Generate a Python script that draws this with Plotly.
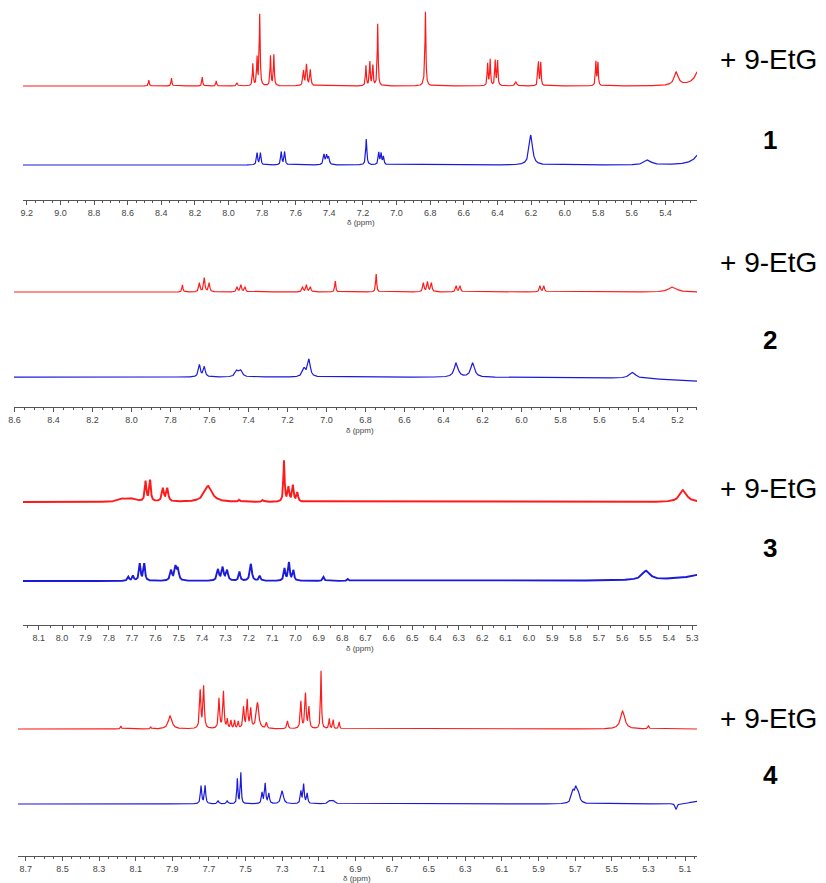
import numpy as np
import plotly.graph_objects as go

W, H = 826, 883

# ---------------- data: peak tables (ppm, intensity, half-width ppm) ----------------
# Panel 1
p1_red_pos = [8.474, 8.339, 8.156, 8.073, 7.95, 7.855, 7.83, 7.814, 7.75, 7.73, 7.554, 7.536, 7.513,
              7.182, 7.159, 7.141, 7.112, 6.835, 6.828, 6.458, 6.443, 6.413, 6.399, 6.29, 6.156, 6.142,
              5.814, 5.802, 5.336, 5.18]
p1_red_h = [6, 8, 9, 5, 3, 22, 28, 72, 30, 31, 15, 21, 16, 20, 24, 20, 62, 4, 72, 22, 26, 25, 25, 4,
            24, 23, 24, 23, 13, 30]
p1_red_w = [0.003, 0.003, 0.003, 0.003, 0.004, 0.003, 0.003, 0.003, 0.003, 0.003, 0.004, 0.004, 0.004,
            0.003, 0.003, 0.003, 0.003, 0.008, 0.003, 0.003, 0.003, 0.003, 0.003, 0.006, 0.003, 0.003,
            0.003, 0.003, 0.015, 0.03]
p1_blue_pos = [7.83, 7.81, 7.686, 7.666, 7.432, 7.416, 7.404, 7.18, 7.106, 7.092, 7.078, 6.201, 5.505, 5.17]
p1_blue_h = [12, 12, 13, 13, 10, 9, 7, 26, 12, 11, 8, 30, 5, 24]
p1_blue_w = [0.004, 0.004, 0.004, 0.004, 0.005, 0.005, 0.005, 0.004, 0.004, 0.004, 0.004, 0.012, 0.022, 0.035]

# Panel 2
p2_red_pos = [7.739, 7.652, 7.627, 7.602, 7.459, 7.439, 7.418, 7.123, 7.103, 7.083, 6.955, 6.745,
              6.503, 6.482, 6.462, 6.335, 6.315, 5.905, 5.885, 5.225]
p2_red_h = [7, 9, 14, 9, 5, 7, 5, 5, 7, 5, 11, 18, 9, 10, 9, 6, 6, 6, 6, 5]
p2_red_w = [0.003, 0.004, 0.004, 0.004, 0.004, 0.004, 0.004, 0.004, 0.004, 0.004, 0.003, 0.003,
            0.004, 0.004, 0.004, 0.004, 0.004, 0.004, 0.004, 0.025]
p2_blue_pos = [7.652, 7.627, 7.46, 7.44, 7.115, 7.09, 6.335, 6.25, 5.43, 4.9]
p2_blue_h = [12, 10, 6, 6, 8, 17, 14, 14, 6, -6]
p2_blue_w = [0.006, 0.006, 0.01, 0.01, 0.01, 0.008, 0.012, 0.012, 0.02, 0.3]

# Panel 3
p3_red_pos = [7.74, 7.70, 7.642, 7.623, 7.568, 7.549, 7.374, 7.24, 7.14, 7.049, 7.03, 7.011, 6.992, 5.339]
p3_red_h = [3, 3, 20, 21, 13, 13, 16, 2, 2, 41, 14, 16, 9, 12]
p3_red_w = [0.02, 0.02, 0.004, 0.004, 0.005, 0.005, 0.02, 0.004, 0.004, 0.003, 0.004, 0.004, 0.004, 0.018]
p3_blue_pos = [7.716, 7.696, 7.667, 7.648, 7.533, 7.514, 7.504, 7.332, 7.312, 7.293, 7.24, 7.191,
               7.153, 7.047, 7.028, 7.009, 6.88, 6.775, 5.498, 5.15]
p3_blue_h = [4, 5, 17, 17, 10, 13, 11, 11, 13, 10, 9, 17, 5, 12, 18, 10, 4, 2, 9, 16]
p3_blue_w = [0.004, 0.004, 0.004, 0.004, 0.005, 0.005, 0.005, 0.005, 0.005, 0.005, 0.004, 0.005,
             0.004, 0.004, 0.004, 0.004, 0.004, 0.004, 0.02, 0.1]

# Panel 4
p4_red_pos = [8.181, 8.018, 7.912, 7.748, 7.729, 7.645, 7.621, 7.60, 7.58, 7.56, 7.54, 7.511, 7.491,
              7.472, 7.435, 7.386, 7.271, 7.198, 7.173, 7.154, 7.088, 7.043, 7.022, 6.989, 5.441, 5.30]
p4_red_h = [3, 2, 13, 38, 42, 30, 37, 9, 8, 8, 7, 21, 28, 19, 26, 6, 8, 27, 35, 21, 58, 10, 9, 7, 18, 3]
p4_red_w = [0.003, 0.003, 0.012, 0.004, 0.004, 0.004, 0.004, 0.003, 0.003, 0.003, 0.003, 0.004, 0.004,
            0.004, 0.008, 0.004, 0.004, 0.004, 0.004, 0.004, 0.003, 0.003, 0.003, 0.003, 0.014, 0.004]
p4_blue_pos = [7.743, 7.721, 7.65, 7.60, 7.545, 7.526, 7.41, 7.393, 7.373, 7.30, 7.198, 7.183, 7.164,
               7.04, 7.02, 5.712, 5.697, 5.685, 5.149, 4.95]
p4_blue_h = [18, 18, 3, 3, 25, 31, 11, 20, 10, 13, 12, 19, 10, 3, 3, 12, 10, 11, -6, 10]
p4_blue_w = [0.004, 0.004, 0.005, 0.005, 0.003, 0.003, 0.004, 0.004, 0.004, 0.008, 0.004, 0.004, 0.004,
             0.01, 0.01, 0.01, 0.006, 0.01, 0.006, 0.05]

label_plus = "+ 9-EtG"
panel_labels = ["1", "2", "3", "4"]
axis_title = "δ (ppm)"

# ---------------- layout (pixel geometry of each panel) ----------------
panels = [
    dict(red=(p1_red_pos, p1_red_h, p1_red_w), blue=(p1_blue_pos, p1_blue_h, p1_blue_w),
         xl=17, xr=697, d0=9.2, x0=21, ppx=169.5, red_base=86, blue_base=165, axis_y=200,
         dtick=0.2, tick0=0.0, plus_y=60, num_y=140, lw=1.2, title_x=358, title_y=222),
    dict(red=(p2_red_pos, p2_red_h, p2_red_w), blue=(p2_blue_pos, p2_blue_h, p2_blue_w),
         xl=8, xr=697, d0=8.4, x0=48, ppx=196.6, red_base=292, blue_base=377, axis_y=407,
         dtick=0.2, tick0=0.0, plus_y=262, num_y=340, lw=1.2, title_x=357, title_y=430),
    dict(red=(p3_red_pos, p3_red_h, p3_red_w), blue=(p3_blue_pos, p3_blue_h, p3_blue_w),
         xl=17, xr=697, d0=8.1, x0=33, ppx=235.4, red_base=502, blue_base=581, axis_y=625,
         dtick=0.1, tick0=0.0, plus_y=488, num_y=548, lw=1.9, title_x=357, title_y=648),
    dict(red=(p4_red_pos, p4_red_h, p4_red_w), blue=(p4_blue_pos, p4_blue_h, p4_blue_w),
         xl=12, xr=697, d0=8.7, x0=20, ppx=184.7, red_base=729, blue_base=804, axis_y=856,
         dtick=0.2, tick0=0.1, plus_y=718, num_y=775, lw=1.2, title_x=354, title_y=878),
]

RED = "#ff1a1a"
BLUE = "#1a1ad9"
AX = "#555555"
Y_LO, Y_HI = -14, 85

def spectrum(x, pos, h, w):
    y = np.zeros_like(x)
    for p, a, g in zip(pos, h, w):
        y += a / (1.0 + ((x - p) / g) ** 2)
    return y

fig = go.Figure()
layout = dict(width=W, height=H, margin=dict(l=0, r=0, t=0, b=0),
              paper_bgcolor="white", plot_bgcolor="rgba(0,0,0,0)", showlegend=False)
annotations = []

for i, P in enumerate(panels):
    n = i + 1
    d_left = P["d0"] + (P["x0"] - P["xl"]) / P["ppx"]
    d_right = P["d0"] - (P["xr"] - P["x0"]) / P["ppx"]
    xname = "xaxis" if n == 1 else f"xaxis{n}"
    xref = "x" if n == 1 else f"x{n}"
    layout[xname] = dict(
        domain=[P["xl"] / W, P["xr"] / W], range=[d_left, d_right],
        anchor="free", position=1 - P["axis_y"] / H,
        showline=True, linecolor=AX, linewidth=1,
        ticks="outside", ticklen=4, tickcolor=AX, tickwidth=1,
        dtick=P["dtick"], tick0=P["tick0"], tickformat=".1f",
        tickfont=dict(family="Liberation Sans", size=9, color="#444444"),
        minor=dict(dtick=0.05, ticks="outside", ticklen=2, tickcolor=AX),
        showgrid=False, zeroline=False,
    )
    xs = np.linspace(d_right, d_left, 5000)
    for j, (key, color, base) in enumerate([("red", RED, P["red_base"]), ("blue", BLUE, P["blue_base"])]):
        k = 2 * i + j + 1
        yname = "yaxis" if k == 1 else f"yaxis{k}"
        yref = "y" if k == 1 else f"y{k}"
        top_px = base - Y_HI
        bot_px = base - Y_LO
        layout[yname] = dict(domain=[1 - bot_px / H, 1 - top_px / H], range=[Y_LO, Y_HI],
                             anchor=xref, visible=False, showgrid=False, zeroline=False)
        pos, hh, ww = P[key]
        ys = spectrum(xs, pos, hh, ww)
        fig.add_trace(go.Scatter(x=xs, y=ys, xaxis=xref, yaxis=yref, mode="lines",
                                 line=dict(color=color, width=P["lw"]), hoverinfo="skip"))
    annotations.append(dict(text=axis_title, x=P["title_x"] / W, y=1 - P["title_y"] / H,
                            xref="paper", yref="paper", showarrow=False, xanchor="center",
                            yanchor="middle",
                            font=dict(family="Liberation Sans", size=8, color="#444444")))
    annotations.append(dict(text=label_plus, x=769 / W, y=1 - P["plus_y"] / H, xref="paper", yref="paper",
                            showarrow=False, xanchor="center", yanchor="middle",
                            font=dict(family="Liberation Sans", size=28, color="black")))
    annotations.append(dict(text=f"<b>{panel_labels[i]}</b>", x=771 / W, y=1 - P["num_y"] / H,
                            xref="paper", yref="paper", showarrow=False, xanchor="center", yanchor="middle",
                            font=dict(family="Liberation Sans", size=26, color="black")))

layout["annotations"] = annotations
fig.update_layout(**layout)
fig.write_html("out.html")
